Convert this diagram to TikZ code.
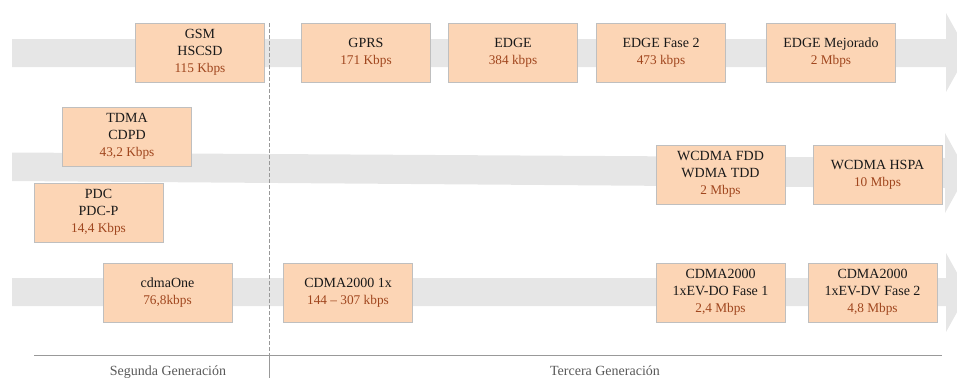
\documentclass[tikz,border=0pt]{standalone}
\usepackage{fontspec}
\setmainfont{Liberation Serif}
\definecolor{boxfill}{HTML}{FCD5B5}
\definecolor{boxline}{HTML}{BFBFBF}
\definecolor{band}{HTML}{E6E6E6}
\definecolor{rate}{HTML}{A0461E}
\definecolor{axis}{HTML}{999999}
\definecolor{gentext}{HTML}{595959}
\newcommand{\rt}[1]{{\color{rate}\fontsize{13.3}{17}\selectfont #1}}
\begin{document}
\begin{tikzpicture}[x=1pt,y=-1pt,
  techbox/.style={draw=boxline, line width=1pt, fill=boxfill, minimum width=129pt, minimum height=59pt,
    inner sep=0pt, align=center, font=\fontsize{14}{17}\selectfont, text=black!90},
  genlabel/.style={font=\fontsize{14}{15}\selectfont, text=gentext, anchor=base}]
\useasboundingbox (0,0) rectangle (957,378);
% bands
\fill[band] (12,39) -- (946,39) -- (946,13) -- (968,52.5) -- (946,92) -- (946,67) -- (12,67) -- cycle;
\fill[band] (12,152.5) -- (945,158) -- (945,133) -- (967,173) -- (945,213) -- (945,188) -- (12,181) -- cycle;
\fill[band] (12,278) -- (946,278) -- (946,253) -- (968,292.5) -- (946,332) -- (946,306) -- (12,306) -- cycle;
% generation separator
\coordinate (septop) at (269,23);
\coordinate (sepmid) at (269,355);
\coordinate (sepbot) at (269,378);
\coordinate (axl) at (34,355);
\coordinate (axr) at (942,355);
\draw[axis, line width=1pt, dash pattern=on 4pt off 2pt] (septop) -- (sepmid);
\draw[axis, line width=1pt] (sepmid) -- (sepbot);
\draw[axis, line width=1pt] (axl) -- (axr);
\node[genlabel] (seg) at (168,375.5) {Segunda Generación};
\node[genlabel] (ter) at (605,375.5) {Tercera Generación};
% row 1
\node[techbox] (gsm) at (200,52.5) {GSM\\HSCSD\\\rt{115 Kbps}};
\node[techbox] (gprs) at (366,52.5) {GPRS\\\rt{171 Kbps}};
\node[techbox] (edge) at (513,52.5) {EDGE\\\rt{384 kbps}};
\node[techbox] (edge2) at (661,52.5) {EDGE Fase 2\\\rt{473 kbps}};
\node[techbox] (edgem) at (831,52.5) {EDGE Mejorado\\\rt{2 Mbps}};
% row 2
\node[techbox] (tdma) at (127,136.5) {TDMA\\CDPD\\\rt{43,2 Kbps}};
\node[techbox] (pdc) at (98.5,212.5) {PDC\\PDC-P\\\rt{14,4 Kbps}};
\node[techbox] (wfdd) at (720.5,174.5) {WCDMA FDD\\WDMA TDD\\\rt{2 Mbps}};
\node[techbox] (whspa) at (877.5,174.5) {WCDMA HSPA\\\rt{10 Mbps}};
% row 3
\node[techbox] (cdmaone) at (167.5,292.5) {cdmaOne\\\rt{76,8kbps}};
\node[techbox] (cdma1x) at (348,292.5) {CDMA2000 1x\\\rt{144 -- 307 kbps}};
\node[techbox] (evdo) at (720.5,292.5) {CDMA2000\\1xEV-DO Fase 1\\\rt{2,4 Mbps}};
\node[techbox] (evdv) at (872.5,292.5) {CDMA2000\\1xEV-DV Fase 2\\\rt{4,8 Mbps}};
\end{tikzpicture}
\end{document}
